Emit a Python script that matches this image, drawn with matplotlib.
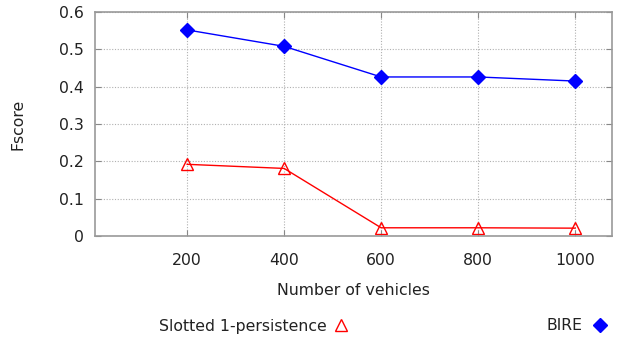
import matplotlib
matplotlib.use("Agg")
import matplotlib.pyplot as plt
from matplotlib.lines import Line2D

vehicles = [200, 400, 600, 800, 1000]
bire = [0.552, 0.508, 0.426, 0.426, 0.415]
slotted = [0.192, 0.181, 0.022, 0.022, 0.021]
yticks = [0, 0.1, 0.2, 0.3, 0.4, 0.5, 0.6]
ytick_labels = ["0", "0.1", "0.2", "0.3", "0.4", "0.5", "0.6"]

plt.rcParams['font.family'] = ['DejaVu Sans']
fs = 11.3
fig = plt.figure(figsize=(6.25, 3.41), dpi=100)
ax = fig.add_axes([95/625, 1-236/341, (612-95)/625, (236-12)/341])

ax.plot(vehicles, bire, color='#0000ff', lw=1.0, marker='D', ms=7.5,
        markerfacecolor='#0000ff', markeredgecolor='#0000ff')
ax.plot(vehicles, slotted, color='#ff0000', lw=1.0, marker='^', ms=8.5,
        markerfacecolor='none', markeredgecolor='#ff0000', markeredgewidth=1.0)

ax.set_xlim(10, 1076)
ax.set_ylim(0, 0.6)
ax.set_xticks(vehicles)
ax.set_xticklabels([str(v) for v in vehicles])
ax.set_yticks(yticks)
ax.set_yticklabels(ytick_labels)
ax.grid(True, color='#b0b0b0', linestyle=(0, (1, 1.5)), lw=0.8)
for s in ax.spines.values():
    s.set_color('#999999')
    s.set_linewidth(1.2)
ax.tick_params(axis='both', colors='#888888', labelcolor='#222222',
               labelsize=fs, length=4, top=True, right=True, direction='in')
ax.tick_params(axis='x', pad=12)
ax.tick_params(axis='y', pad=8)
ax.set_xlabel("Number of vehicles", fontsize=fs, color='#222222', labelpad=11)
ax.set_ylabel("Fscore", fontsize=fs, color='#222222', labelpad=24)

fig.text(327/625, 1-326/341, "Slotted 1-persistence", ha='right', va='center',
         fontsize=fs, color='#222222')
fig.text(583/625, 1-326/341, "BIRE", ha='right', va='center',
         fontsize=fs, color='#222222')
fig.add_artist(Line2D([341/625], [1-325/341], transform=fig.transFigure,
                      marker='^', ms=8, markerfacecolor='none',
                      markeredgecolor='#ff0000', linestyle='none'))
fig.add_artist(Line2D([600/625], [1-325/341], transform=fig.transFigure,
                      marker='D', ms=7, color='#0000ff', linestyle='none'))

fig.savefig("out.png", dpi=100)
